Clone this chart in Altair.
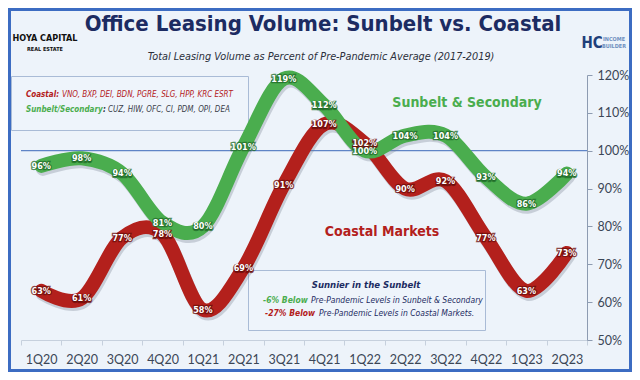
import altair as alt
import pandas as pd

quarters = ["1Q20", "2Q20", "3Q20", "4Q20", "1Q21", "2Q21", "3Q21",
            "4Q21", "1Q22", "2Q22", "3Q22", "4Q22", "1Q23", "2Q23"]
sunbelt = [96, 98, 94, 81, 80, 101, 119, 112, 100, 104, 104, 93, 86, 94]
coastal = [63, 61, 77, 78, 58, 69, 91, 107, 102, 90, 92, 77, 63, 73]
series_names = ["Sunbelt & Secondary", "Coastal Markets"]
series_colors = ["#4aad4e", "#b3201c"]
outline_colors = ["#1f6a28", "#6a0c0a"]
y_ticks = [50, 60, 70, 80, 90, 100, 110, 120]
baseline_value = [100]

rows = []
for q, s, c in zip(quarters, sunbelt, coastal):
    rows.append({"q": q, "series": series_names[0], "v": s, "oc": outline_colors[0]})
    rows.append({"q": q, "series": series_names[1], "v": c, "oc": outline_colors[1]})
df = pd.DataFrame(rows)
df["label"] = df["v"].astype(str) + "%"
one = pd.DataFrame({"a": [0]})
ref_df = pd.DataFrame({"v": baseline_value})

W, H = 566, 265
FONT = "DejaVu Sans Condensed"
BG = "#edf3fa"
NAVY = "#1c2b62"
GREEN = series_colors[0]
RED = series_colors[1]

x_enc = alt.X("q:O", sort=quarters,
              scale=alt.Scale(type="band", paddingInner=0, paddingOuter=0),
              axis=alt.Axis(title=None, labelAngle=0, tickBand="extent",
                            domainColor="#c6d0dd", tickColor="#c6d0dd", tickSize=5,
                            labelPadding=8, labelFont="Lato", labelFontSize=12.5,
                            labelColor="#3b4656", grid=False, labelOverlap=False))
y_enc = alt.Y("v:Q", scale=alt.Scale(domain=[50, 120], nice=False, zero=False),
              axis=alt.Axis(orient="right", values=y_ticks, labelExpr="datum.value + '%'",
                            title=None, domainColor="#8d9bb1", tickColor="#8d9bb1",
                            tickSize=5, labelPadding=5, labelFont="Lato",
                            labelFontSize=12.5, labelColor="#3b4656", grid=False,
                            labelOverlap=False))
color_enc = alt.Color("series:N", scale=alt.Scale(domain=series_names, range=series_colors),
                      legend=None)

base = alt.Chart(df).encode(x=x_enc, y=y_enc)


def txt(s, x, y, size, color, weight="normal", style="normal", align="left", font=FONT):
    return alt.Chart(one).mark_text(
        x=x, y=y, fontSize=size, fontWeight=weight, fontStyle=style, align=align,
        baseline="middle", font=font, color=color
    ).encode(text=alt.value(s))


def box(x, x2, y, y2, fill, stroke, sw=1, fo=1):
    return alt.Chart(one).mark_rect(
        x=x, x2=x2, y=y, y2=y2, fill=fill, fillOpacity=fo, stroke=stroke, strokeWidth=sw
    ).encode(opacity=alt.value(1))


border = box(-11.5, 609.5, -65.5, 295.5, BG, "#3c6cc2", 3, 0)

ref_rule = alt.Chart(ref_df).mark_rule(color="#5f84c6", strokeWidth=1.2).encode(y=y_enc)

line_props = dict(interpolate="cardinal", strokeWidth=14, strokeCap="round", strokeJoin="round")
shadow = base.mark_line(color="#6f7a8a", opacity=0.3, xOffset=1.5, yOffset=3,
                        **line_props).encode(detail="series:N")
red_line = base.transform_filter(alt.datum.series == series_names[1]).mark_line(
    **line_props).encode(color=color_enc)
green_line = base.transform_filter(alt.datum.series == series_names[0]).mark_line(
    **line_props).encode(color=color_enc)

lab_outline = base.mark_text(font=FONT, fontSize=9, fontWeight="bold", strokeWidth=2.4,
                             strokeOpacity=0.75, dy=0.5).encode(
    text="label:N", fill=alt.Fill("oc:N", scale=None), stroke=alt.Stroke("oc:N", scale=None))
lab_white = base.mark_text(font=FONT, fontSize=9, fontWeight="bold", color="white").encode(
    text="label:N")

annotations = [
    # logos
    txt("HOYA CAPITAL", 24, -37, 9, "#111111", "bold", align="center"),
    txt("REAL ESTATE", 24, -26, 5.5, "#111111", "bold", align="center"),
    txt("HC", 571, -32, 15, "#1f3f7a", "bold", align="center"),
    txt("INCOME", 593, -36, 5.5, "#6f8fbf", "bold", align="center"),
    txt("BUILDER", 593, -29, 5.5, "#6f8fbf", "bold", align="center"),
    # titles
    txt("Office Leasing Volume: Sunbelt vs. Coastal", 302, -51, 22, NAVY, "bold", align="center"),
    txt("Total Leasing Volume as Percent of Pre-Pandemic Average (2017-2019)", 300, -18, 10.8,
        "#2b2f3a", "normal", "italic", align="center"),
    # legend box
    box(-9.5, 227.5, 1.5, 55.5, "#eef4fb", "#a9bbd6"),
    txt("Coastal:", 5, 20, 8, RED, "bold", "italic"),
    txt("VNO, BXP, DEI, BDN, PGRE, SLG, HPP, KRC ESRT", 41, 20, 8, RED, "normal", "italic"),
    txt("Sunbelt/Secondary", 5, 35, 8, GREEN, "bold", "italic"),
    txt(":", 82, 35, 8, "#2b2f3a", "bold", "italic"),
    txt("CUZ, HIW, OFC, CI, PDM, OPI, DEA", 87, 35, 8, "#3b3f4a", "normal", "italic"),
    # series labels
    txt("Sunbelt & Secondary", 446, 28, 14, GREEN, "bold", align="center"),
    txt("Coastal Markets", 361, 157, 14, RED, "bold", align="center"),
    # bottom box
    box(227.5, 464.5, 195.5, 255.5, "#eef4fb", "#a9bbd6"),
    txt("Sunnier in the Sunbelt", 345, 210, 9.5, NAVY, "bold", "italic", align="center"),
    txt("-6% Below", 242, 225, 8.5, GREEN, "bold", "italic"),
    txt("Pre-Pandemic Levels in Sunbelt & Secondary", 290, 225, 8.5, NAVY, "normal", "italic"),
    txt("-27% Below", 244, 238, 8.5, RED, "bold", "italic"),
    txt("Pre-Pandemic Levels in Coastal Markets.", 298, 238, 8.5, NAVY, "normal", "italic"),
]

chart = alt.layer(
    border, *annotations, ref_rule, shadow, red_line, green_line, lab_outline, lab_white
).properties(
    width=W, height=H,
    padding={"left": 13, "top": 67, "right": 45, "bottom": 32},
    autosize=alt.AutoSizeParams(type="none"),
    background=BG,
).configure_view(stroke=None)

chart.save("out.html", embed_options={"renderer": "svg", "actions": False})
